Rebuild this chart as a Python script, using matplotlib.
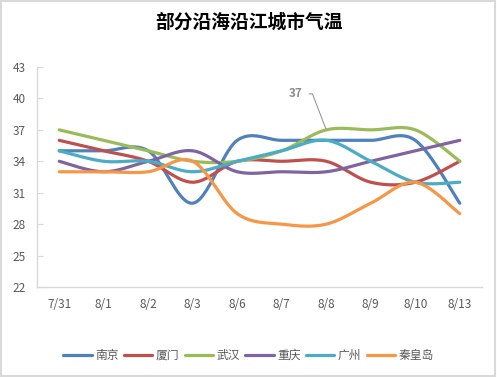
import numpy as np
import matplotlib
matplotlib.use("Agg")
import matplotlib.pyplot as plt
from matplotlib.patches import Rectangle

plt.rcParams['font.family'] = ['Noto Sans CJK SC', 'DejaVu Sans']

title = "部分沿海沿江城市气温"
dates = ["7/31", "8/1", "8/2", "8/3", "8/6", "8/7", "8/8", "8/9", "8/10", "8/13"]
nanjing = [35, 35, 35, 30, 36, 36, 36, 36, 36, 30]
xiamen = [36, 35, 34, 32, 34, 34, 34, 32, 32, 34]
wuhan = [37, 36, 35, 34, 34, 35, 37, 37, 37, 34]
chongqing = [34, 33, 34, 35, 33, 33, 33, 34, 35, 36]
guangzhou = [35, 34, 34, 33, 34, 35, 36, 34, 32, 32]
qinhuangdao = [33, 33, 33, 34, 29, 28, 28, 30, 32, 29]
series_names = ["南京", "厦门", "武汉", "重庆", "广州", "秦皇岛"]
series_values = [nanjing, xiamen, wuhan, chongqing, guangzhou, qinhuangdao]
colors = ["#4F81BD", "#C0504D", "#9BBB59", "#8064A2", "#4BACC6", "#F79646"]
yticks = [22, 25, 28, 31, 34, 37, 40, 43]


def smooth(x, y, n=30):
    # Excel-style smoothed line (cubic Bezier with 1/6 tangent control points)
    x = np.asarray(x, float)
    y = np.asarray(y, float)
    P = np.column_stack([x, y])
    Pe = np.vstack([P[0], P, P[-1]])
    out = []
    t = np.linspace(0, 1, n)[:, None]
    for i in range(len(P) - 1):
        p0, p3 = P[i], P[i + 1]
        c1 = p0 + (Pe[i + 2] - Pe[i]) / 6.0
        c2 = p3 - (Pe[i + 3] - Pe[i + 1]) / 6.0
        seg = ((1 - t) ** 3) * p0 + 3 * ((1 - t) ** 2) * t * c1 + 3 * (1 - t) * t ** 2 * c2 + t ** 3 * p3
        out.append(seg if i == 0 else seg[1:])
    out = np.vstack(out)
    return out[:, 0], out[:, 1]


fig = plt.figure(figsize=(4.97, 3.77), dpi=100)
fig.patches.append(Rectangle((0.002, 0.003), 0.994, 0.994, transform=fig.transFigure,
                             fill=False, edgecolor="#D9D9D9", linewidth=1.5))
ax = fig.add_axes([0.0744, 0.2387, 0.8955, 0.5836])

xs = np.arange(len(dates))
for name, vals, c in zip(series_names, series_values, colors):
    sx, sy = smooth(xs, vals)
    ax.plot(sx, sy, color=c, linewidth=2.3, label=name, solid_capstyle='round')

ax.set_xlim(-0.5, len(dates) - 0.5)
ax.set_ylim(22, 43)
ax.set_yticks(yticks)
ax.set_xticks(xs)
ax.set_xticklabels(dates)
for s in ["top", "right"]:
    ax.spines[s].set_visible(False)
for s in ["left", "bottom"]:
    ax.spines[s].set_color("#D9D9D9")
    ax.spines[s].set_linewidth(1.0)
ax.tick_params(axis='y', direction='in', length=4, color="#D9D9D9", labelsize=8.5,
               labelcolor="#595959", pad=8)
ax.tick_params(axis='x', length=0, labelsize=8.5, labelcolor="#595959", pad=8)

# data label for 武汉 at 8/8
ax.annotate(str(wuhan[6]), xy=(6, wuhan[6]), xytext=(-24, 36), textcoords='offset pixels',
            ha='right', va='center', fontsize=8.5, fontweight='bold', color="#8C8C8C",
            arrowprops=dict(arrowstyle='-', color="#8C8C8C", linewidth=0.7,
                            connectionstyle='angle,angleA=0,angleB=111,rad=0',
                            relpos=(1, 0.5), shrinkA=3, shrinkB=1))

fig.text(0.5, 0.942, title, ha='center', va='center', fontsize=13.5, fontweight='bold', color="#000000")

fig.legend(loc='center', bbox_to_anchor=(0.5, 0.058), ncol=6, frameon=False,
           fontsize=8.5, handlelength=2.4, handletextpad=0.3, columnspacing=0.45,
           labelcolor="#595959")

fig.savefig("out.png", dpi=100)
